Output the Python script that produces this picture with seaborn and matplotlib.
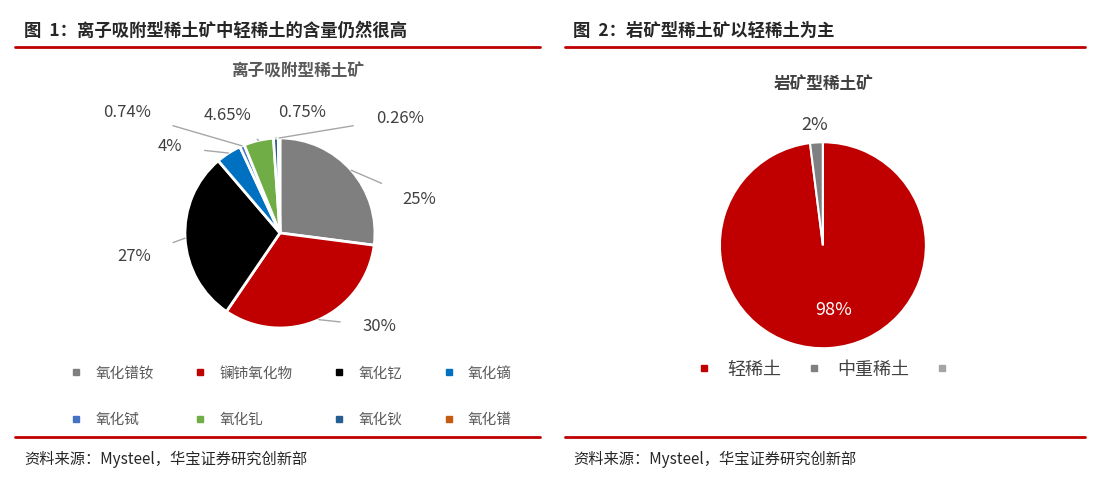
import numpy as np
import seaborn as sns
import matplotlib.pyplot as plt
from matplotlib.lines import Line2D

sns.set_style('white')
plt.rcParams['font.family'] = ['Noto Sans CJK SC', 'DejaVu Sans']

ion_labels = ['氧化镨钕', '镧铈氧化物', '氧化钇', '氧化镝', '氧化铽', '氧化钆', '氧化钬', '氧化镨']
ion_values = [25, 30, 27, 4, 0.74, 4.65, 0.75, 0.26]
ion_text = ['25%', '30%', '27%', '4%', '0.74%', '4.65%', '0.75%', '0.26%']
ion_colors = ['#7f7f7f', '#c00000', '#000000', '#0070c0', '#4472c4', '#70ad47', '#255e91', '#c55a11']

rock_labels = ['轻稀土', '中重稀土', '']
rock_values = [98, 2, 0]
rock_colors = ['#c00000', '#7f7f7f', '#a5a5a5']

RED = '#c00000'
L = 1.8
fig = plt.figure(figsize=(10.94, 4.79), dpi=100)

# headers and footers
for x0, x1, title, src in [(0.014, 0.494, '图  1：离子吸附型稀土矿中轻稀土的含量仍然很高', '资料来源：Mysteel，华宝证券研究创新部'),
                           (0.516, 0.992, '图  2：岩矿型稀土矿以轻稀土为主', '资料来源：Mysteel，华宝证券研究创新部')]:
    fig.add_artist(Line2D([x0, x1], [0.902, 0.902], color=RED, lw=2))
    fig.add_artist(Line2D([x0, x1], [0.087, 0.087], color=RED, lw=2))
    fig.text(x0 + 0.008, 0.935, title, fontsize=12.5, fontweight='bold', va='center')
    fig.text(x0 + 0.008, 0.04, src, fontsize=11, va='center')

# left pie
ax1 = fig.add_axes([0.0996, 0.1566, 0.3126, 0.714])
wedges, _ = ax1.pie(ion_values, colors=ion_colors, startangle=90, counterclock=False,
                    wedgeprops=dict(edgecolor='white', linewidth=2))
ax1.set_aspect('equal')
ax1.set_xlim(-L, L)
ax1.set_ylim(-L, L)
ax1.axis('off')
label_pos = [(1.47, 0.35), (1.05, -0.98), (-1.53, -0.25), (-1.16, 0.91), (-1.61, 1.27), (-0.55, 1.24), (0.23, 1.27), (1.26, 1.21)]
for w, t, (lx, ly) in zip(wedges, ion_text, label_pos):
    ang = np.deg2rad((w.theta1 + w.theta2) / 2)
    ex, ey = np.cos(ang), np.sin(ang)
    ax1.annotate(t, xy=(ex, ey), xytext=(lx, ly), fontsize=12, color='#404040',
                 ha='center', va='center', annotation_clip=False,
                 arrowprops=dict(arrowstyle='-', color='#a6a6a6', lw=1, shrinkA=14, shrinkB=0))
fig.text(0.272, 0.84, '离子吸附型稀土矿', fontsize=12, fontweight='bold', color='#595959', ha='center')
order = [0, 4, 1, 5, 2, 6, 3, 7]
handles = [Line2D([], [], marker='s', ls='', color=ion_colors[i], markersize=4, label=ion_labels[i]) for i in order]
fig.legend(handles=handles, loc='center', bbox_to_anchor=(0.262, 0.172), ncol=4, frameon=False,
           fontsize=10.5, labelcolor='#595959', handletextpad=0.3, columnspacing=2.2, labelspacing=2.2)

# right pie
ax2 = fig.add_axes([0.5827, 0.101, 0.339, 0.774])
wedges2, _ = ax2.pie(rock_values, colors=rock_colors, startangle=90, counterclock=False,
                     wedgeprops=dict(edgecolor='white', linewidth=1.5))
ax2.set_aspect('equal')
ax2.set_xlim(-L, L)
ax2.set_ylim(-L, L)
ax2.axis('off')
ax2.text(0.1, -0.63, '98%', color='white', fontsize=13, ha='center', va='center')
ax2.text(-0.08, 1.17, '2%', color='#404040', fontsize=13, ha='center', va='center')
fig.text(0.753, 0.815, '岩矿型稀土矿', fontsize=12, fontweight='bold', fontstyle='italic', color='#404040', ha='center')
handles2 = [Line2D([], [], marker='s', ls='', color=c, markersize=5, label=l) for c, l in zip(rock_colors, rock_labels)]
fig.legend(handles=handles2, loc='center', bbox_to_anchor=(0.755, 0.228), ncol=3, frameon=False,
           fontsize=13, labelcolor='#404040', handletextpad=0.3, columnspacing=0.8)

plt.savefig('out.png', dpi=100)
